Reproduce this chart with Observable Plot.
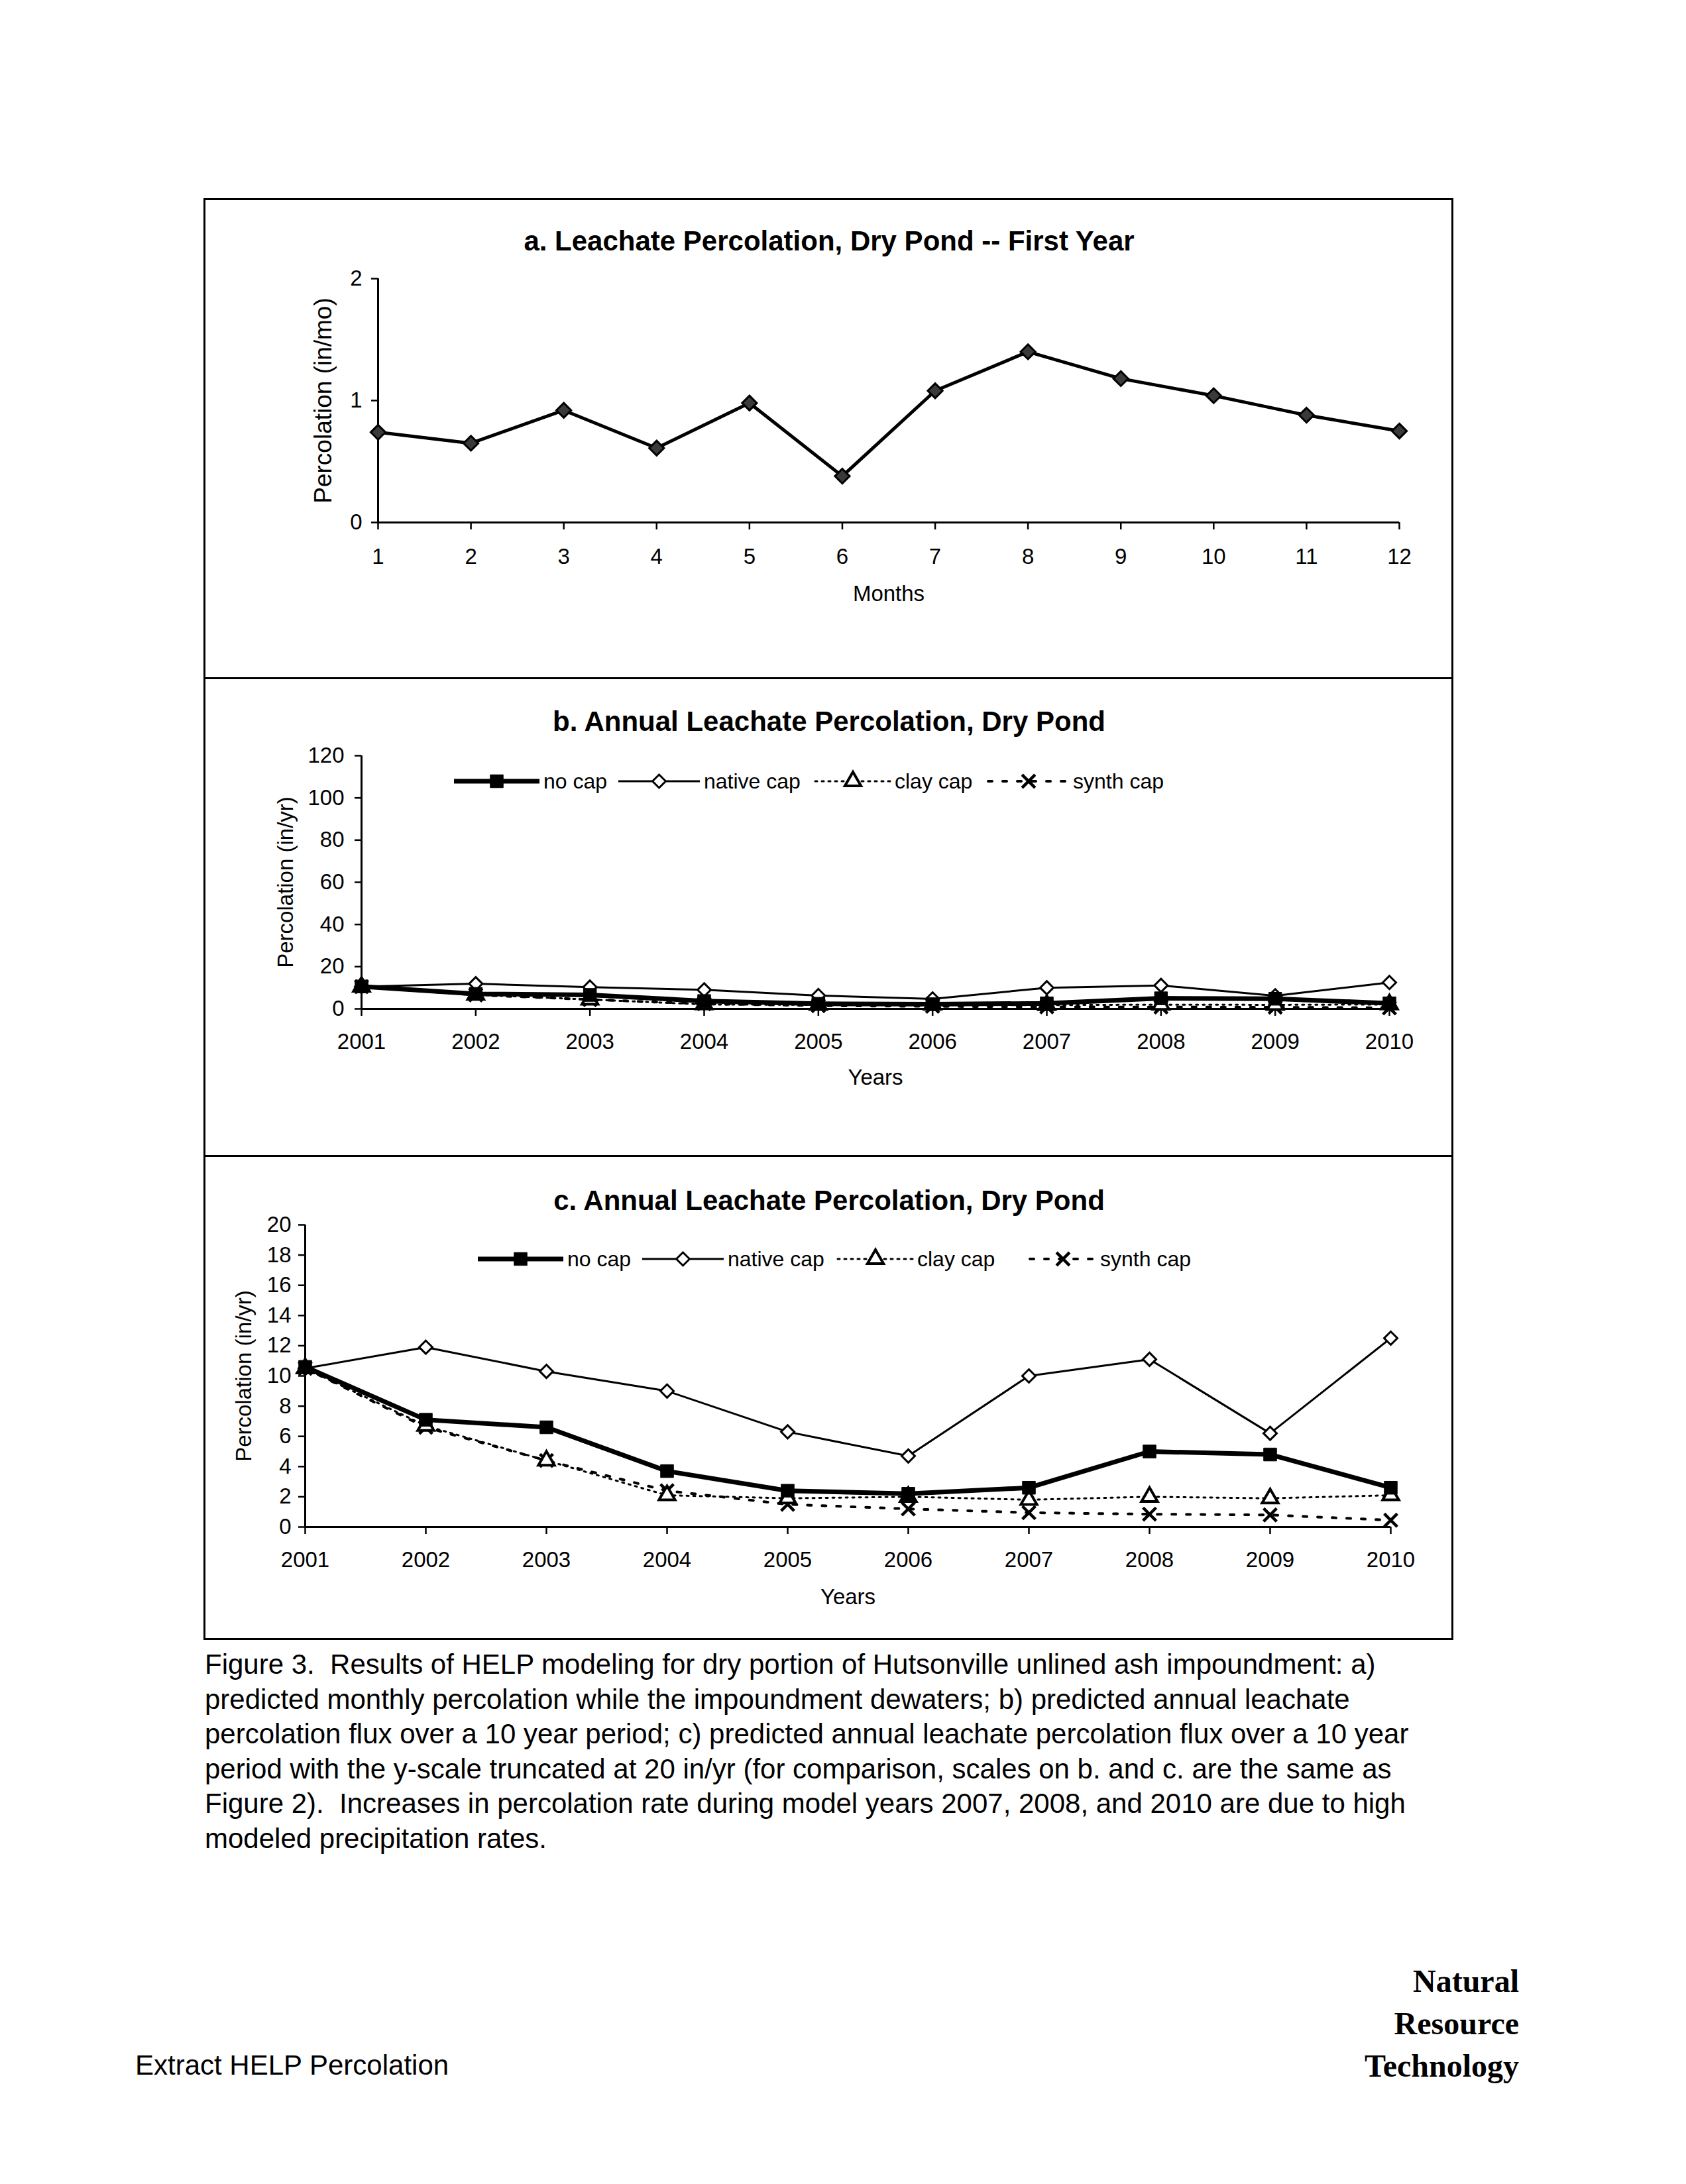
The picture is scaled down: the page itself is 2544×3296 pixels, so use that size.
<!DOCTYPE html>
<html>
<head>
<meta charset="utf-8">
<script src="https://cdn.jsdelivr.net/npm/d3@7"></script>
<script src="https://cdn.jsdelivr.net/npm/@observablehq/plot@0.6"></script>
<style>
  html, body { margin: 0; padding: 0; background: #fff; }
  #page { position: relative; width: 2544px; height: 3296px; background: #fff; font-family: "Liberation Sans", Arial, sans-serif; color: #000; overflow: hidden; }
  .abs { position: absolute; }
  .title { font-weight: bold; font-size: 42px; white-space: nowrap; transform: translate(-50%, -50%); }
  .legend { font-size: 32px; white-space: nowrap; }
  .legend .item { position: absolute; top: 0; display: flex; align-items: center; height: 40px; }
  .legend svg { display: block; }
  .caption { font-size: 42px; line-height: 52.6px; white-space: pre; }
  .footer { font-family: "Liberation Serif", "Times New Roman", serif; font-weight: bold; font-size: 48px; line-height: 64px; text-align: right; }
</style>
</head>
<body>
<div id="page"></div>
<script>
// ---------- data ----------
const months = [1, 2, 3, 4, 5, 6, 7, 8, 9, 10, 11, 12];
const monthlyPercolation = [0.74, 0.65, 0.92, 0.61, 0.98, 0.38, 1.08, 1.40, 1.18, 1.04, 0.88, 0.75];

const years = [2001, 2002, 2003, 2004, 2005, 2006, 2007, 2008, 2009, 2010];
const noCap     = [10.6, 7.1, 6.6, 3.7, 2.4, 2.2, 2.6, 5.0, 4.8, 2.6];
const nativeCap = [10.5, 11.9, 10.3, 9.0, 6.3, 4.7, 10.0, 11.1, 6.2, 12.5];
const clayCap   = [10.5, 6.7, 4.4, 2.1, 1.9, 2.0, 1.8, 2.0, 1.9, 2.1];
const synthCap  = [10.5, 6.6, 4.4, 2.4, 1.5, 1.2, 0.95, 0.85, 0.8, 0.45];

const seriesNames = ["no cap", "native cap", "clay cap", "synth cap"];
const monthTicks = months;
const yTicksA = [0, 1, 2];
const yTicksB = [0, 20, 40, 60, 80, 100, 120];
const yTicksC = [0, 2, 4, 6, 8, 10, 12, 14, 16, 18, 20];

const titles = [
  "a. Leachate Percolation, Dry Pond -- First Year",
  "b. Annual Leachate Percolation, Dry Pond",
  "c. Annual Leachate Percolation, Dry Pond"
];
const captionLines = [
  "Figure 3.  Results of HELP modeling for dry portion of Hutsonville unlined ash impoundment: a)",
  "predicted monthly percolation while the impoundment dewaters; b) predicted annual leachate",
  "percolation flux over a 10 year period; c) predicted annual leachate percolation flux over a 10 year",
  "period with the y-scale truncated at 20 in/yr (for comparison, scales on b. and c. are the same as",
  "Figure 2).  Increases in percolation rate during model years 2007, 2008, and 2010 are due to high",
  "modeled precipitation rates."
];

// ---------- styles for series ----------
const seriesStyle = {
  "no cap":     {values: noCap,     strokeWidth: 7, dash: null,   symbol: "square",   r: 11, fill: "black", markStroke: "black", markWidth: 1},
  "native cap": {values: nativeCap, strokeWidth: 3, dash: null,   symbol: "diamond2", r: 9,  fill: "white", markStroke: "black", markWidth: 3},
  "clay cap":   {values: clayCap,   strokeWidth: 3, dash: "3,7",  symbol: "triangle", r: 9,  fill: "white", markStroke: "black", markWidth: 4},
  "synth cap":  {values: synthCap,  strokeWidth: 4, dash: "6,16", symbol: "times",    r: 9,  fill: "none",  markStroke: "black", markWidth: 4.5}
};
const drawOrder = ["synth cap", "clay cap", "native cap", "no cap"];

const page = document.getElementById("page");
function addDiv(cls, css, html) {
  const d = document.createElement("div");
  d.className = "abs " + (cls || "");
  Object.assign(d.style, css);
  if (html != null) d.innerHTML = html;
  page.appendChild(d);
  return d;
}

const FONT = "'Liberation Sans', Arial, sans-serif";

// ---------- frame boxes ----------
addDiv("", {left: "307px", top: "299px", width: "1880px", height: "2170px", border: "3px solid #000"});
addDiv("", {left: "307px", top: "1022px", width: "1886px", height: "3px", background: "#000"});
addDiv("", {left: "307px", top: "1743px", width: "1886px", height: "3px", background: "#000"});

// ---------- panel a ----------
{
  const data = months.map((m, i) => ({month: m, value: monthlyPercolation[i]}));
  const svg = Plot.plot({
    width: 1884, height: 723,
    marginLeft: 261, marginRight: 82, marginTop: 119, marginBottom: 236,
    style: {fontFamily: FONT, fontSize: "33px", background: "transparent", overflow: "visible"},
    x: {domain: [1, 12]},
    y: {domain: [0, 2]},
    marks: [
      Plot.ruleX([1], {stroke: "black", strokeWidth: 3}),
      Plot.ruleY([0], {stroke: "black", strokeWidth: 3}),
      Plot.axisY({ticks: yTicksA, tickSize: 10, tickPadding: 14, fontSize: 33, tickFormat: d3.format("d"),
        label: null, strokeWidth: 2.5}),
      Plot.axisY({ticks: [], fontSize: 37, dy: -17,
        label: "Percolation (in/mo)", labelAnchor: "center", labelOffset: 97, labelArrow: "none"}),
      Plot.axisX({ticks: monthTicks, tickSize: 11, tickPadding: 28, fontSize: 33, tickFormat: d3.format("d"),
        label: "Months", labelAnchor: "center", labelOffset: 118, labelArrow: "none", strokeWidth: 2.5}),
      Plot.line(data, {x: "month", y: "value", stroke: "black", strokeWidth: 5}),
      Plot.dot(data, {x: "month", y: "value", symbol: "diamond2", r: 10, fill: "#3a3a3a", stroke: "black", strokeWidth: 3})
    ]
  });
  svg.style.position = "absolute"; svg.style.left = "309px"; svg.style.top = "301px";
  page.appendChild(svg);
  addDiv("title", {left: "1251px", top: "364px"}, titles[0]);
}

// ---------- annual panels ----------
function annualPanel(opts) {
  const marks = [
    Plot.ruleX([2001], {stroke: "black", strokeWidth: 3}),
    Plot.ruleY([0], {stroke: "black", strokeWidth: 3}),
    Plot.axisY({ticks: opts.yTicks, tickSize: 10, tickPadding: opts.yPad, fontSize: 33, tickFormat: d3.format("d"),
      label: "Percolation (in/yr)", labelAnchor: "center", labelOffset: opts.yLabelOffset, labelArrow: "none", strokeWidth: 2.5}),
    Plot.axisX({ticks: years, tickSize: 11, tickPadding: 26, fontSize: 33, tickFormat: d3.format("d"),
      label: "Years", labelAnchor: "center", labelOffset: opts.xLabelOffset, labelArrow: "none", strokeWidth: 2.5})
  ];
  for (const name of drawOrder) {
    const s = seriesStyle[name];
    const data = years.map((y, i) => ({year: y, value: s.values[i], series: name}));
    marks.push(Plot.line(data, {x: "year", y: "value", stroke: "black", strokeWidth: s.strokeWidth,
      strokeDasharray: s.dash || undefined, strokeLinecap: s.dash ? "round" : "butt"}));
  }
  for (const name of drawOrder) {
    const s = seriesStyle[name];
    const data = years.map((y, i) => ({year: y, value: s.values[i], series: name}));
    marks.push(Plot.dot(data, {x: "year", y: "value", symbol: s.symbol, r: s.r, fill: s.fill,
      stroke: s.markStroke, strokeWidth: s.markWidth}));
  }
  const svg = Plot.plot({
    width: 1884, height: opts.height,
    marginLeft: opts.ml, marginRight: opts.mr, marginTop: opts.mt, marginBottom: opts.mb,
    style: {fontFamily: FONT, fontSize: "33px", background: "transparent", overflow: "visible"},
    x: {domain: [2001, 2010]},
    y: {domain: opts.yDomain},
    marks
  });
  svg.style.position = "absolute"; svg.style.left = "309px"; svg.style.top = opts.top + "px";
  page.appendChild(svg);
  addDiv("title", {left: "1251px", top: opts.titleY + "px"}, opts.title);
  makeLegend(opts.legendX, opts.legendY, opts.legendOffsets, opts.legendWidths);
}

function makeLegend(x, y, offsets, widths) {
  const leg = addDiv("legend", {left: x + "px", top: (y - 20) + "px", height: "40px", width: "1200px"});
  seriesNames.forEach((name, k) => {
    const s = seriesStyle[name];
    const w = widths[k];
    const item = document.createElement("div");
    item.className = "item";
    item.style.left = offsets[k] + "px";
    const sv = d3.create("svg").attr("width", w).attr("height", 40);
    sv.append("line").attr("x1", 2).attr("x2", w - 2).attr("y1", 20).attr("y2", 20)
      .attr("stroke", "black").attr("stroke-width", s.strokeWidth)
      .attr("stroke-dasharray", s.dash || null).attr("stroke-linecap", s.dash ? "round" : "butt");
    const symMap = {square: d3.symbolSquare, diamond2: d3.symbolDiamond2, triangle: d3.symbolTriangle, times: d3.symbolTimes};
    sv.append("path").attr("transform", `translate(${w / 2},20)`)
      .attr("d", d3.symbol(symMap[s.symbol], s.r * s.r * Math.PI)())
      .attr("fill", s.fill).attr("stroke", s.markStroke).attr("stroke-width", s.markWidth);
    item.appendChild(sv.node());
    const t = document.createElement("span");
    t.textContent = name;
    t.style.marginLeft = "4px";
    item.appendChild(t);
    leg.appendChild(item);
  });
}

annualPanel({top: 1024, height: 721, ml: 236, mr: 97, mt: 116, mb: 223, yDomain: [0, 120], yTicks: yTicksB,
  yPad: 16, yLabelOffset: 127, xLabelOffset: 114, title: titles[1], titleY: 1089, legendX: 683, legendY: 1179,
  legendOffsets: [0, 248, 545, 806], legendWidths: [133, 127, 118, 126]});
annualPanel({top: 1745, height: 730, ml: 151, mr: 95, mt: 103, mb: 171, yDomain: [0, 20], yTicks: yTicksC,
  yPad: 11, yLabelOffset: 105, xLabelOffset: 116, title: titles[2], titleY: 1812, legendX: 719, legendY: 1900,
  legendOffsets: [0, 248, 543, 833], legendWidths: [133, 127, 118, 104]});

// ---------- caption & footer ----------
addDiv("caption", {left: "309px", top: "2486px"}, captionLines.join("\n"));
addDiv("", {left: "204px", top: "3093px", fontSize: "42px", whiteSpace: "nowrap"}, "Extract HELP Percolation");
addDiv("footer", {left: "1800px", top: "2958px", width: "492px"}, "Natural<br>Resource<br>Technology");
</script>
</body>
</html>
